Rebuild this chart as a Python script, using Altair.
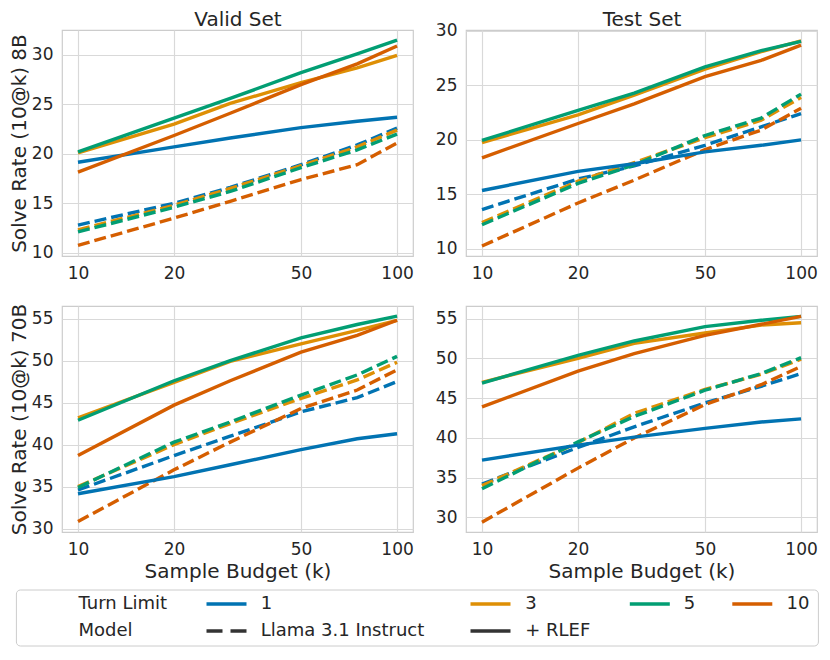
import altair as alt
import pandas as pd

# ---------------- data ----------------
BUDGET = [10, 20, 30, 50, 75, 100]
TURN_LIMITS = ["1", "3", "5", "10"]
MODELS = ["Llama 3.1 Instruct", "+ RLEF"]
X_TICKS = [10, 20, 50, 100]
Y_TICKS_8B = [10, 15, 20, 25, 30]
Y_TICKS_70B = [30, 35, 40, 45, 50, 55]

# each list: series for turn limits 1, 3, 5, 10 over BUDGET
VALID_8B_LLAMA = [
    [12.8, 15.0, 16.6, 18.9, 20.9, 22.6],
    [12.3, 14.8, 16.5, 18.8, 20.7, 22.4],
    [12.1, 14.6, 16.2, 18.6, 20.4, 22.0],
    [10.75, 13.5, 15.2, 17.4, 18.9, 21.1],
]
VALID_8B_RLEF = [
    [19.15, 20.7, 21.6, 22.65, 23.3, 23.7],
    [20.1, 23.0, 25.1, 27.2, 28.7, 29.95],
    [20.2, 23.6, 25.6, 28.2, 30.1, 31.5],
    [18.15, 21.85, 24.1, 27.0, 29.1, 30.9],
]
TEST_8B_LLAMA = [
    [13.6, 16.4, 17.6, 19.5, 21.2, 22.4],
    [12.4, 16.2, 17.9, 20.2, 21.8, 23.9],
    [12.2, 16.0, 17.7, 20.4, 22.0, 24.2],
    [10.25, 14.2, 16.3, 19.1, 20.9, 22.9],
]
TEST_8B_RLEF = [
    [15.35, 17.1, 17.8, 18.9, 19.5, 20.0],
    [19.75, 22.3, 24.1, 26.5, 28.1, 29.1],
    [19.95, 22.7, 24.3, 26.7, 28.2, 29.05],
    [18.35, 21.5, 23.3, 25.8, 27.3, 28.7],
]
VALID_70B_LLAMA = [
    [34.6, 38.7, 41.0, 43.9, 45.6, 47.5],
    [35.0, 40.0, 42.5, 45.5, 47.7, 49.8],
    [34.9, 40.3, 42.7, 45.9, 48.3, 50.5],
    [30.85, 37.0, 40.3, 44.3, 46.5, 48.9],
]
VALID_70B_RLEF = [
    [34.15, 36.2, 37.6, 39.4, 40.7, 41.3],
    [43.2, 47.4, 49.9, 52.0, 53.6, 54.8],
    [42.9, 47.6, 50.0, 52.7, 54.3, 55.3],
    [38.7, 44.7, 47.6, 51.0, 53.0, 54.8],
]
TEST_70B_LLAMA = [
    [34.2, 38.8, 41.4, 44.4, 46.5, 48.1],
    [34.0, 39.4, 43.1, 46.1, 48.0, 49.9],
    [33.6, 39.5, 42.7, 46.0, 48.1, 50.1],
    [29.4, 36.2, 40.0, 44.2, 46.7, 49.0],
]
TEST_70B_RLEF = [
    [37.2, 39.1, 40.1, 41.2, 42.0, 42.4],
    [47.0, 50.0, 51.9, 53.2, 54.2, 54.5],
    [46.9, 50.4, 52.2, 54.0, 54.8, 55.3],
    [43.9, 48.4, 50.6, 52.9, 54.3, 55.3],
]

# legend entries (row 1: turn limits, row 2: models)
ENTRIES = ["Turn Limit"] + TURN_LIMITS + ["Model"] + MODELS

# ---------------- style / layout ----------------
FONT = "DejaVu Sans"
TEXT = "#262626"
TURN_COLORS = ["#0173b2", "#de8f05", "#029e73", "#d55e00"]
DASH = [12, 5]
ENTRY_COLORS = ["transparent"] + TURN_COLORS + ["transparent", "#333333", "#333333"]
ENTRY_DASHES = [[1, 0]] * 6 + [[16, 8], [1, 0]]
ENTRY_COL = [0, 1, 2, 3, 4, 0, 1, 2]
ENTRY_ROW = [0, 0, 0, 0, 0, 1, 1, 1]
# legend layout, relative to the legend view origin
LEG_HANDLE_X = [-38.3, 144.5, 408.5, 567.8, 670.3]
LEG_TEXT_X = [16.5, 198.7, 463.2, 621.7, 724.5]
LEG_ROW_Y = [14, 41]
LEG_BOX = {"x": -45.6, "x2": 756.4, "y": 0, "y2": 56}
HANDLE_LEN = 40
LEG_W, LEG_H = 757, 57
X_DOMAIN = [8.91, 112.2]
W, H = 351, 226
LW = 3.4


def table(llama, rlef):
    rows = []
    for ti, t in enumerate(TURN_LIMITS):
        for model, series in ((MODELS[0], llama), (MODELS[1], rlef)):
            for b, v in zip(BUDGET, series[ti]):
                rows.append({"budget": b, "rate": v, "turn": t, "model": model})
    return pd.DataFrame(rows)


def panel(llama, rlef, ydomain, yticks, title=None, ytitle=None, xtitle=None):
    xscale = alt.Scale(type="log", domain=X_DOMAIN, nice=False)
    x_bottom = alt.X("budget:Q", scale=xscale,
                     axis=alt.Axis(values=X_TICKS, format="d", title=xtitle, titlePadding=4))
    y = alt.Y(
        "rate:Q",
        scale=alt.Scale(domain=ydomain, nice=False, zero=False),
        axis=alt.Axis(values=yticks, title=ytitle, titlePadding=2),
    )
    stroke = alt.Stroke("turn:N", scale=alt.Scale(domain=TURN_LIMITS, range=TURN_COLORS), legend=None)
    base = alt.Chart(table(llama, rlef))
    llama_layer = base.transform_filter(alt.datum.model == MODELS[0]).mark_line(
        strokeWidth=LW, strokeDash=DASH, clip=True
    ).encode(x=x_bottom, y=y, stroke=stroke)
    if title:
        x_top = alt.X("budget:Q", scale=xscale,
                      axis=alt.Axis(orient="top", title=title, labels=False, ticks=False,
                                    domain=False, grid=False, titlePadding=1))
    else:
        x_top = x_bottom
    rlef_layer = base.transform_filter(alt.datum.model == MODELS[1]).mark_line(
        strokeWidth=LW, clip=True
    ).encode(x=x_top, y=y, stroke=stroke)
    ch = alt.layer(llama_layer, rlef_layer).properties(width=W, height=H)
    if title:
        ch = ch.resolve_axis(x="independent")
    return ch


tl = panel(VALID_8B_LLAMA, VALID_8B_RLEF, [9.67, 32.52], Y_TICKS_8B, title="Valid Set",
           ytitle="Solve Rate (10@k) 8B")
tr = panel(TEST_8B_LLAMA, TEST_8B_RLEF, [9.33, 30.09], Y_TICKS_8B, title="Test Set")
bl = panel(VALID_70B_LLAMA, VALID_70B_RLEF, [29.6, 56.5], Y_TICKS_70B,
           ytitle="Solve Rate (10@k) 70B", xtitle="Sample Budget (k)")
br = panel(TEST_70B_LLAMA, TEST_70B_RLEF, [28.16, 56.6], Y_TICKS_70B, xtitle="Sample Budget (k)")

# ---------------- legend (drawn as its own small chart) ----------------
leg_df = pd.DataFrame({
    "entry": ENTRIES,
    "hx": [LEG_HANDLE_X[c] for c in ENTRY_COL],
    "hx2": [LEG_HANDLE_X[c] + HANDLE_LEN for c in ENTRY_COL],
    "tx": [LEG_TEXT_X[c] for c in ENTRY_COL],
    "ry": [LEG_ROW_Y[r] for r in ENTRY_ROW],
    "has_handle": [c > 0 for c in ENTRY_COL],
})
frame = alt.Chart(pd.DataFrame([LEG_BOX])).mark_rect(
    fill="white", stroke="#cccccc", strokeWidth=1, cornerRadius=4
).encode(
    x=alt.X("x:Q", scale=None), x2="x2:Q",
    y=alt.Y("y:Q", scale=None), y2="y2:Q",
)
leg_base = alt.Chart(leg_df)
handles = leg_base.transform_filter(alt.datum.has_handle).mark_rule(strokeWidth=LW).encode(
    x=alt.X("hx:Q", scale=None),
    x2="hx2:Q",
    y=alt.Y("ry:Q", scale=None),
    color=alt.Color("entry:N", scale=alt.Scale(domain=ENTRIES, range=ENTRY_COLORS), legend=None),
    strokeDash=alt.StrokeDash("entry:N", scale=alt.Scale(domain=ENTRIES, range=ENTRY_DASHES), legend=None),
)
labels = leg_base.mark_text(align="left", baseline="middle", font=FONT, fontSize=18, color=TEXT).encode(
    x=alt.X("tx:Q", scale=None),
    y=alt.Y("ry:Q", scale=None),
    text="entry:N",
)
legend_row = alt.layer(frame, handles, labels).properties(
    width=LEG_W, height=LEG_H,
    view=alt.ViewBackground(stroke="transparent"),
)

grid = alt.vconcat(
    alt.hconcat(tl, tr, spacing=20),
    alt.hconcat(bl, br, spacing=20),
    spacing=20,
)

chart = alt.vconcat(grid, legend_row, spacing=6).resolve_scale(
    color="independent", strokeDash="independent"
).properties(padding=0).configure_axis(
    labelFont=FONT, labelFontSize=17, labelColor=TEXT,
    titleFont=FONT, titleFontSize=20, titleFontWeight="normal", titleColor=TEXT,
    gridColor="#d9d9d9", gridWidth=1.2, domain=False, ticks=False, labelPadding=9,
).configure_view(stroke="#cccccc", strokeWidth=1.2)

chart.save("out.html", embed_options={"renderer": "svg", "actions": False})
